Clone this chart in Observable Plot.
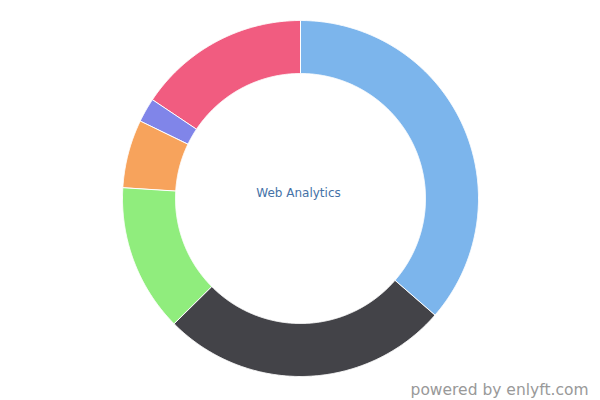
<!DOCTYPE html>
<html>
<head>
<meta charset="utf-8">
<script src="https://cdn.jsdelivr.net/npm/d3@7"></script>
<script src="https://cdn.jsdelivr.net/npm/@observablehq/plot@0.6"></script>
<style>
  html, body { margin: 0; padding: 0; background: #fff; }
  #chart { width: 600px; height: 400px; }
</style>
</head>
<body>
<div id="chart"></div>
<script>
const categories = ["Segment A", "Segment B", "Segment C", "Segment D", "Segment E", "Segment F"];
const shares = [36.4, 26.2, 13.4, 6.2, 2.2, 15.6];
const colors = ["#7cb5ec", "#434348", "#90ed7d", "#f7a35c", "#8085e9", "#f15c80"];
const centerLabel = "Web Analytics";
const credit = "powered by enlyft.com";

const outerR = 178, innerR = 125;
const pie = d3.pie().sort(null).value(d => d.value)(categories.map((c, i) => ({category: c, value: shares[i]})));

// Build each slice outline as a closed ring sector polygon
const pts = [];
pie.forEach(s => {
  const n = Math.max(8, Math.ceil((s.endAngle - s.startAngle) / 0.005));
  const ring = [];
  for (let k = 0; k <= n; k++) {
    const a = s.startAngle + (s.endAngle - s.startAngle) * k / n;
    ring.push({a, r: outerR});
  }
  for (let k = n; k >= 0; k--) {
    const a = s.startAngle + (s.endAngle - s.startAngle) * k / n;
    ring.push({a, r: innerR});
  }
  ring.forEach(p => pts.push({category: s.data.category, x: p.r * Math.sin(p.a), y: p.r * Math.cos(p.a)}));
});

const chart = Plot.plot({
  width: 600,
  height: 400,
  margin: 0,
  style: {fontFamily: "DejaVu Sans, sans-serif", background: "#fff"},
  x: {domain: [-300, 300], axis: null},
  y: {domain: [-202, 198], axis: null},
  color: {domain: categories, range: colors},
  marks: [
    Plot.line(pts, {x: "x", y: "y", z: "category", fill: "category", stroke: "#fff", strokeWidth: 1, curve: "linear-closed"}),
    Plot.text([centerLabel], {x: -2, y: 5, text: d => d, fill: "#4572a7", fontSize: 12}),
    Plot.text([credit], {frameAnchor: "bottom-right", text: d => d, dx: -12, dy: -6, fill: "#999", fontSize: 15.5, textAnchor: "end"})
  ]
});
document.getElementById("chart").appendChild(chart);
</script>
</body>
</html>
